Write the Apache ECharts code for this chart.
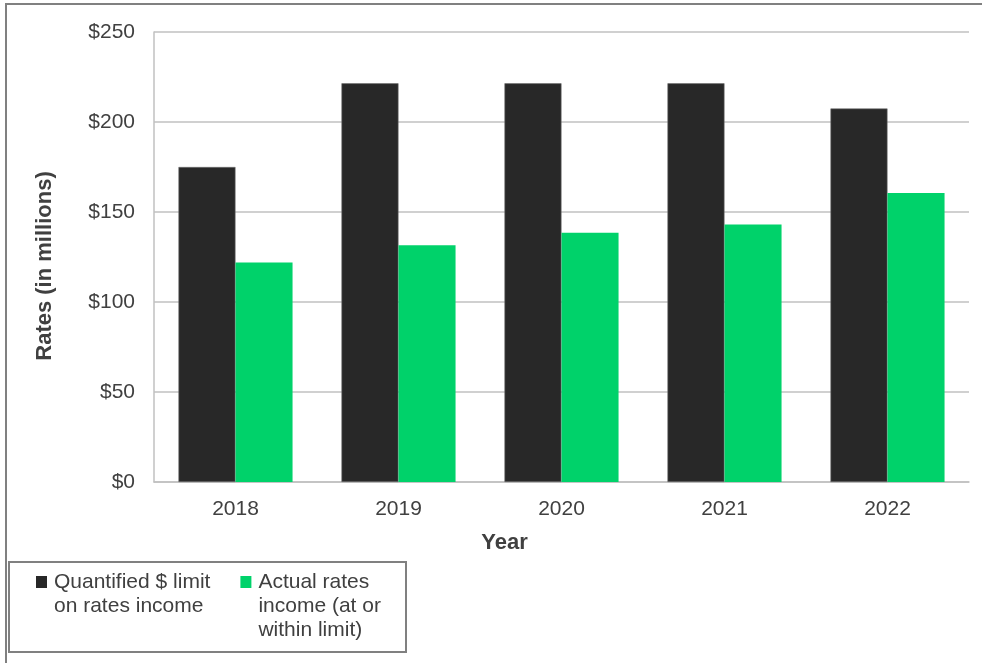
<!DOCTYPE html>
<html>
<head>
<meta charset="utf-8">
<script src="https://cdn.jsdelivr.net/npm/echarts@6/dist/echarts.min.js"></script>
<style>
html,body{margin:0;padding:0;background:#fff;}
#chart{width:982px;height:663px;}
</style>
</head>
<body>
<div id="chart"></div>
<script>
const years = ['2018', '2019', '2020', '2021', '2022'];
const limitValues = [175, 221.5, 221.5, 221.5, 207.5];
const actualValues = [122, 131.5, 138.5, 143, 160.5];
const seriesNames = ['Quantified $ limit\non rates income', 'Actual rates\nincome (at or\nwithin limit)'];
const yTicks = { min: 0, max: 250, interval: 50 };
const xTitle = 'Year';
const yTitle = 'Rates (in millions)';

const FONT = 'Liberation Sans, Arial, sans-serif';
const chart = echarts.init(document.getElementById('chart'), null, { renderer: 'canvas' });

// Prepend blank lines so the first line of a multi-line legend label sits level with its icon
const legendFormatter = name => '\n'.repeat(name.split('\n').length - 1) + name;

chart.setOption({
  backgroundColor: '#ffffff',
  animation: false,
  textStyle: { fontFamily: FONT },
  graphic: [
    { type: 'rect', shape: { x: 6, y: 4, width: 1100, height: 800 },
      style: { fill: 'none', stroke: '#808080', lineWidth: 2 }, silent: true, z: -1 },
    { type: 'rect', shape: { x: 9, y: 562, width: 397, height: 90 },
      style: { fill: 'none', stroke: '#808080', lineWidth: 2 }, silent: true, z: -1 }
  ],
  grid: { left: 154, right: 13, top: 32, bottom: 181, containLabel: false },
  legend: {
    left: 31,
    top: 517,
    itemWidth: 11,
    itemHeight: 12,
    itemGap: 30,
    icon: 'rect',
    selectedMode: false,
    formatter: legendFormatter,
    itemStyle: { borderWidth: 0 },
    textStyle: { fontSize: 21, color: '#404040', lineHeight: 24, fontFamily: FONT, padding: [0, 0, 0, 2] },
    data: seriesNames
  },
  xAxis: {
    type: 'category',
    data: years,
    name: xTitle,
    nameLocation: 'middle',
    nameGap: 50,
    nameTextStyle: { fontSize: 22, fontWeight: 'bold', color: '#404040', padding: [0, 114, 0, 0] },
    axisLine: { show: true, lineStyle: { color: '#c0c0c0', width: 1.5 } },
    axisTick: { show: false },
    axisLabel: { fontSize: 21, color: '#404040', margin: 17 },
    splitLine: { show: false }
  },
  yAxis: {
    type: 'value',
    min: yTicks.min,
    max: yTicks.max,
    interval: yTicks.interval,
    name: yTitle,
    nameLocation: 'middle',
    nameGap: 98,
    nameRotate: 90,
    nameTextStyle: { fontSize: 22, fontWeight: 'bold', color: '#404040', padding: [0, 18, 0, 0] },
    axisLine: { show: true, lineStyle: { color: '#c0c0c0', width: 1.5 } },
    axisTick: { show: false },
    axisLabel: { fontSize: 21, color: '#404040', margin: 19, formatter: v => '$' + v },
    splitLine: { show: true, lineStyle: { color: '#c0c0c0', width: 1.5 } }
  },
  series: [
    {
      name: seriesNames[0],
      type: 'bar',
      data: limitValues,
      barGap: '0%',
      barCategoryGap: '30%',
      itemStyle: { color: '#282828', borderColor: '#6e6e6e', borderWidth: 0.6 }
    },
    {
      name: seriesNames[1],
      type: 'bar',
      data: actualValues,
      barGap: '0%',
      barCategoryGap: '30%',
      itemStyle: { color: '#00d26a' }
    }
  ]
});
</script>
</body>
</html>
